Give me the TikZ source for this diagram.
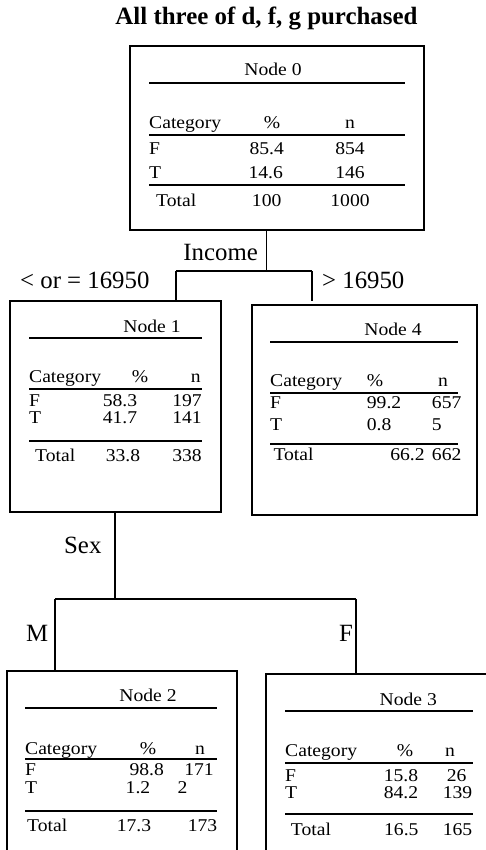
\documentclass[tikz,border=0pt]{standalone}
\usepackage{fontspec}
\setmainfont{Liberation Serif}
\newfontfamily\bodyfam[FakeStretch=1.09]{Liberation Serif}
\newcommand\bodyfs{\bodyfam\fontsize{18}{20}\selectfont}
\newcommand\labfs{\fontsize{24.8}{28}\selectfont}
\newcommand\titfs{\fontsize{24.9}{28}\selectfont\bfseries}
\tikzset{
  treebox/.style={draw, rectangle, line width=1.4pt, inner sep=0pt},
  rulel/.style={line width=2pt},
  conn/.style={line width=1.5pt},
  txt/.style={inner sep=0pt, font=\bodyfs},
  lbl/.style={inner sep=0pt, font=\labfs},
}
\begin{document}
\begin{tikzpicture}[x=1pt, y=-1pt]
\useasboundingbox (0,0) rectangle (486,850);
\clip (0,0) rectangle (486,850);
\fill[white] (0,0) rectangle (486,850);

% title
\node[inner sep=0pt, font=\titfs, anchor=base] (title) at (266.5,25) {All three of d, f, g purchased};

% boxes
\node[treebox, minimum width=294pt, minimum height=184pt] (n0) at (277,138) {};
\node[treebox, minimum width=211pt, minimum height=211pt] (n1) at (115.5,406.5) {};
\node[treebox, minimum width=225pt, minimum height=210pt] (n4) at (364.5,410) {};
\node[treebox, minimum width=230pt, minimum height=229pt] (n2) at (122,785.5) {};
\node[treebox, minimum width=264pt, minimum height=226pt] (n3) at (398,787) {};

% ---- Node 0 table
\node[txt, anchor=base] (n0t) at (273,76) {Node 0};
\draw[rulel] (149,83) -- (405,83);
\node[txt, anchor=base west] (n0h1) at (149,128.3) {Category};
\node[txt, anchor=base] (n0h2) at (272,128.3) {\%};
\node[txt, anchor=base] (n0h3) at (350,128.3) {n};
\draw[rulel] (149,135) -- (405,135);
\node[txt, anchor=base west] (n0a1) at (149,154.3) {F};
\node[txt, anchor=base] (n0a2) at (266.7,154.3) {85.4};
\node[txt, anchor=base] (n0a3) at (350,154.3) {854};
\node[txt, anchor=base west] (n0b1) at (149,179) {T};
\node[txt, anchor=base] (n0b2) at (265.7,179) {14.6};
\node[txt, anchor=base] (n0b3) at (350,179) {146};
\draw[rulel] (149,185) -- (405,185);
\node[txt, anchor=base west] (n0c1) at (156,206.7) {Total};
\node[txt, anchor=base] (n0c2) at (266.7,206.7) {100};
\node[txt, anchor=base] (n0c3) at (350,206.7) {1000};

% ---- Node 1 table
\node[txt, anchor=base] (n1t) at (152,332.7) {Node 1};
\draw[rulel] (29,338) -- (202,338);
\node[txt, anchor=base west] (n1h1) at (29,382.7) {Category};
\node[txt, anchor=base] (n1h2) at (140,382.7) {\%};
\node[txt, anchor=base east] (n1h3) at (201,382.7) {n};
\draw[rulel] (29,389) -- (202,389);
\node[txt, anchor=base west] (n1a1) at (29,406) {F};
\node[txt, anchor=base] (n1a2) at (120,406) {58.3};
\node[txt, anchor=base east] (n1a3) at (202,406) {197};
\node[txt, anchor=base west] (n1b1) at (29,423.5) {T};
\node[txt, anchor=base] (n1b2) at (120,423.5) {41.7};
\node[txt, anchor=base east] (n1b3) at (202,423.5) {141};
\draw[rulel] (29,440.7) -- (202,440.7);
\node[txt, anchor=base west] (n1c1) at (35,461.7) {Total};
\node[txt, anchor=base] (n1c2) at (123,461.7) {33.8};
\node[txt, anchor=base east] (n1c3) at (202,461.7) {338};

% ---- Node 4 table
\node[txt, anchor=base] (n4t) at (393,335) {Node 4};
\draw[rulel] (270,341.7) -- (458,341.7);
\node[txt, anchor=base west] (n4h1) at (270,386.7) {Category};
\node[txt, anchor=base west] (n4h2) at (366.7,386.7) {\%};
\node[txt, anchor=base] (n4h3) at (443,386.7) {n};
\draw[rulel] (270,393.3) -- (458,393.3);
\node[txt, anchor=base west] (n4a1) at (270,408) {F};
\node[txt, anchor=base west] (n4a2) at (366.7,408) {99.2};
\node[txt, anchor=base] (n4a3) at (446.7,408) {657};
\node[txt, anchor=base west] (n4b1) at (270,430.7) {T};
\node[txt, anchor=base west] (n4b2) at (366.7,430.7) {0.8};
\node[txt, anchor=base] (n4b3) at (436.7,430.7) {5};
\draw[rulel] (270,444) -- (458,444);
\node[txt, anchor=base west] (n4c1) at (273.3,460) {Total};
\node[txt, anchor=base] (n4c2) at (407.5,460) {66.2};
\node[txt, anchor=base] (n4c3) at (446.7,460) {662};

% ---- Node 2 table
\node[txt, anchor=base] (n2t) at (148,701.7) {Node 2};
\draw[rulel] (25,708.3) -- (217,708.3);
\node[txt, anchor=base west] (n2h1) at (25,754) {Category};
\node[txt, anchor=base] (n2h2) at (148,754) {\%};
\node[txt, anchor=base] (n2h3) at (200,754) {n};
\draw[rulel] (25,759.3) -- (217,759.3);
\node[txt, anchor=base west] (n2a1) at (25,775.5) {F};
\node[txt, anchor=base] (n2a2) at (146.7,775.5) {98.8};
\node[txt, anchor=base] (n2a3) at (199,775.5) {171};
\node[txt, anchor=base west] (n2b1) at (25,793.5) {T};
\node[txt, anchor=base] (n2b2) at (138,793.5) {1.2};
\node[txt, anchor=base] (n2b3) at (182.5,793.5) {2};
\draw[rulel] (25,810.7) -- (217,810.7);
\node[txt, anchor=base west] (n2c1) at (27,831.7) {Total};
\node[txt, anchor=base] (n2c2) at (134,831.7) {17.3};
\node[txt, anchor=base] (n2c3) at (202.5,831.7) {173};

% ---- Node 3 table
\node[txt, anchor=base] (n3t) at (408.3,705) {Node 3};
\draw[rulel] (285,711) -- (473,711);
\node[txt, anchor=base west] (n3h1) at (285,756) {Category};
\node[txt, anchor=base] (n3h2) at (405,756) {\%};
\node[txt, anchor=base] (n3h3) at (450,756) {n};
\draw[rulel] (285,762.7) -- (473,762.7);
\node[txt, anchor=base west] (n3a1) at (285,781.7) {F};
\node[txt, anchor=base] (n3a2) at (401,781.7) {15.8};
\node[txt, anchor=base] (n3a3) at (456.7,781.7) {26};
\node[txt, anchor=base west] (n3b1) at (285,798.5) {T};
\node[txt, anchor=base] (n3b2) at (401,798.5) {84.2};
\node[txt, anchor=base] (n3b3) at (457.5,798.5) {139};
\draw[rulel] (285,814) -- (473,814);
\node[txt, anchor=base west] (n3c1) at (290.7,835) {Total};
\node[txt, anchor=base] (n3c2) at (401.3,835) {16.5};
\node[txt, anchor=base] (n3c3) at (457.5,835) {165};

% ---- connectors: Income split
\coordinate (j0) at (266.5,271);
\coordinate (j0l) at (176,271);
\coordinate (j0r) at (312,271);
\coordinate (e4) at (312,301);
\draw[conn] (n0.south -| j0) -- (j0);
\draw[conn] (j0l) -- (j0r);
\draw[conn] (j0l) -- (j0l |- n1.north);
\draw[conn] (j0r) -- (e4);
\node[lbl, anchor=base east] (lincome) at (258,260) {Income};
\node[lbl, anchor=base west] (lle) at (20,288.3) {< or = 16950};
\node[lbl, anchor=base west] (lgt) at (322,288.3) {> 16950};

% ---- connectors: Sex split
\coordinate (j1) at (115,599);
\coordinate (j1l) at (55,599);
\coordinate (j1r) at (356,599);
\draw[conn] (n1.south -| j1) -- (j1);
\draw[conn] (j1l) -- (j1r);
\draw[conn] (j1l) -- (j1l |- n2.north);
\draw[conn] (j1r) -- (j1r |- n3.north);
\node[lbl, anchor=base west] (lsex) at (64,553) {Sex};
\node[lbl, anchor=base west] (lm) at (26,641.7) {M};
\node[lbl, anchor=base west] (lf) at (339,641.7) {F};
\end{tikzpicture}
\end{document}
